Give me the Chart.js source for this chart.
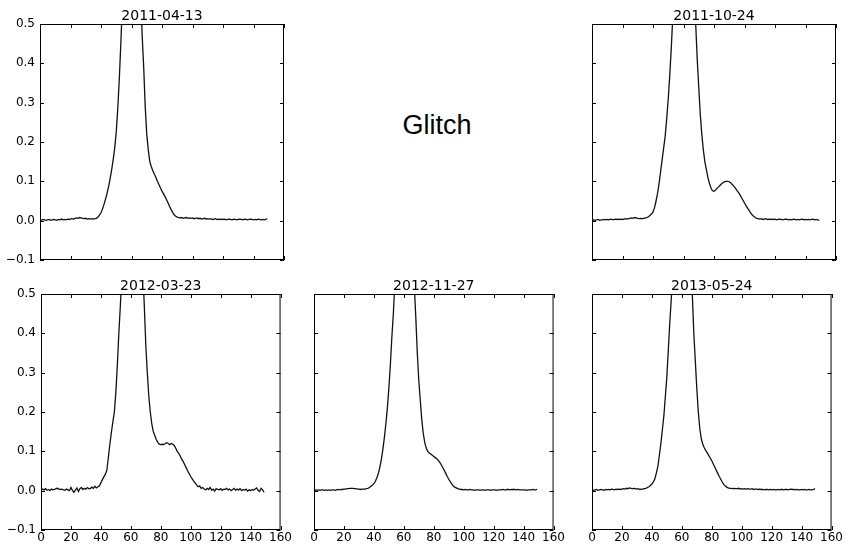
<!DOCTYPE html>
<html>
<head>
<meta charset="utf-8">
<script src="https://cdn.jsdelivr.net/npm/chart.js@4.4.0/dist/chart.umd.min.js"></script>
<style>
  body { margin: 0; background: #fff; }
  #wrap { position: relative; width: 849px; height: 547px; }
  canvas { position: absolute; }
  #glitch {
    position: absolute; left: 337px; top: 110px; width: 200px;
    text-align: center; font: 27px "Liberation Sans", Arial, sans-serif; color: #000;
  }
</style>
</head>
<body>
<div id="wrap">
  <canvas id="c1" width="292" height="278" style="left:0px;top:0px"></canvas>
  <div id="glitch">Glitch</div>
  <canvas id="c2" width="292" height="278" style="left:552px;top:0px"></canvas>
  <canvas id="c3" width="292" height="278" style="left:1px;top:270px"></canvas>
  <canvas id="c4" width="292" height="278" style="left:274px;top:270px"></canvas>
  <canvas id="c5" width="292" height="278" style="left:552px;top:270px"></canvas>
</div>
<script>
// tick values and labels
const X_TICKS = [0, 20, 40, 60, 80, 100, 120, 140, 160];
const Y_TICKS = [-0.1, 0, 0.1, 0.2, 0.3, 0.4, 0.5];
const Y_TICK_LABELS = ['\u22120.1', '0.0', '0.1', '0.2', '0.3', '0.4', '0.5'];

// one value per sample, sample index 0..149 (peaks are clipped)
const S_2011_04_13 = [
  0.002, 0.001, 0.003, 0.002, 0.001, 0.002, 0.003, 0.001, 0.002, 0.003,
  0.002, 0.001, 0.003, 0.002, 0.004, 0.002, 0.003, 0.002, 0.004, 0.003,
  0.004, 0.005, 0.004, 0.006, 0.007, 0.006, 0.008, 0.007, 0.006, 0.005,
  0.006, 0.004, 0.005, 0.004, 0.005, 0.004, 0.005, 0.006,
  0.009, 0.014, 0.02, 0.03, 0.042, 0.055, 0.07, 0.087, 0.107, 0.13,
  0.155, 0.185, 0.225, 0.285, 0.36, 0.45, 0.55, 0.66, 0.77, 0.87,
  0.95, 0.99, 1.0, 0.98, 0.93, 0.86, 0.78, 0.68, 0.58, 0.47,
  0.39, 0.29, 0.22, 0.18, 0.15, 0.137, 0.127, 0.118, 0.11, 0.1,
  0.092, 0.083, 0.075, 0.068, 0.061, 0.053, 0.045, 0.036, 0.028, 0.021,
  0.015, 0.011, 0.009,
  0.008, 0.007, 0.008, 0.006, 0.007, 0.008, 0.006, 0.007, 0.006,
  0.007, 0.005, 0.006, 0.007, 0.005, 0.006, 0.004, 0.005, 0.006, 0.004,
  0.005, 0.004, 0.005, 0.003, 0.004, 0.005, 0.003, 0.004, 0.003, 0.004,
  0.003, 0.004, 0.002, 0.003, 0.004, 0.003, 0.002, 0.004, 0.003, 0.002,
  0.003, 0.004, 0.003, 0.002, 0.004, 0.003, 0.002, 0.003, 0.004, 0.003,
  0.002, 0.003, 0.002, 0.004, 0.003, 0.002, 0.003, 0.002, 0.003, 0.005
];
const S_2011_10_24 = [
  0.001, 0.002, 0.001, 0.002, 0.003, 0.001, 0.002, 0.002, 0.003, 0.002,
  0.003, 0.002, 0.004, 0.003, 0.002, 0.004, 0.003, 0.004, 0.003, 0.004,
  0.003, 0.004, 0.005, 0.004, 0.005, 0.006, 0.007, 0.006, 0.008, 0.007,
  0.006, 0.005, 0.006, 0.005, 0.006, 0.007, 0.008,
  0.01, 0.013, 0.017, 0.022, 0.033, 0.05, 0.07, 0.095, 0.125, 0.155,
  0.185, 0.215, 0.26, 0.31, 0.37, 0.44, 0.52, 0.6, 0.7, 0.8,
  0.88, 0.95, 0.99, 1.0, 0.99, 0.96, 0.9, 0.83, 0.75, 0.66,
  0.57, 0.5, 0.41, 0.34, 0.27, 0.22, 0.18, 0.15, 0.13, 0.11,
  0.095, 0.083, 0.076, 0.075, 0.078, 0.082, 0.086, 0.09, 0.094, 0.097,
  0.099, 0.1, 0.1, 0.099, 0.096, 0.092, 0.088, 0.083, 0.077, 0.072,
  0.066, 0.059, 0.052, 0.045, 0.038, 0.032, 0.026, 0.02, 0.015, 0.011,
  0.008, 0.006, 0.005,
  0.004, 0.005, 0.003, 0.004, 0.005, 0.003, 0.004, 0.003, 0.004, 0.003,
  0.004, 0.002, 0.003, 0.004, 0.003, 0.002, 0.003, 0.004, 0.003, 0.002,
  0.003, 0.002, 0.004, 0.003, 0.002, 0.003, 0.002, 0.003, 0.004, 0.002,
  0.003, 0.002, 0.003, 0.002, 0.003, 0.004, 0.002, 0.003, 0.002, 0.001
];
const S_2012_03_23 = [
  0.001, 0.004, 0.002, 0.005, 0.001, 0.003, 0.0, 0.004, 0.002, 0.003,
  0.005, 0.006, 0.004, 0.003, 0.004, 0.002, 0.001, 0.004, 0.002, 0.0,
  0.008, 0.001, -0.004, 0.002, 0.007, -0.002, 0.005, 0.008, 0.003, 0.006,
  0.004, 0.008, 0.005, 0.006, 0.009, 0.006, 0.011, 0.007, 0.01,
  0.012, 0.02, 0.028, 0.035, 0.042, 0.052, 0.085, 0.118, 0.148, 0.175,
  0.2, 0.25, 0.32, 0.4, 0.47, 0.55, 0.65, 0.75, 0.84, 0.91,
  0.96, 0.99, 1.0, 0.99, 0.96, 0.91, 0.84, 0.75, 0.65, 0.56,
  0.47, 0.37, 0.3, 0.24, 0.2, 0.17, 0.15, 0.14, 0.13, 0.123,
  0.118, 0.117, 0.118, 0.117, 0.12, 0.122, 0.12, 0.117, 0.12, 0.118,
  0.115, 0.108, 0.1, 0.095, 0.088, 0.08, 0.074, 0.066, 0.058, 0.05,
  0.043, 0.036, 0.03, 0.024, 0.019, 0.014, 0.01, 0.012,
  0.006, 0.008, 0.004,
  0.002, 0.006, 0.003, 0.008, 0.001, 0.004, -0.001, 0.005, 0.003, 0.002,
  0.005, 0.001, 0.004, 0.003, 0.006, 0.002, 0.004, 0.0, 0.003, 0.006,
  0.001, 0.004, 0.002, 0.005, 0.0, 0.003, 0.001, 0.004, -0.001, 0.002,
  0.0, 0.003, 0.001, 0.004, 0.007, 0.001, -0.002, 0.006, 0.002, -0.004
];
const S_2012_11_27 = [
  0.001, 0.002, 0.001, 0.002, 0.001, 0.002, 0.002, 0.001, 0.002, 0.001,
  0.002, 0.001, 0.002, 0.002, 0.001, 0.002, 0.003, 0.002, 0.003, 0.003,
  0.004, 0.004, 0.005, 0.005, 0.006, 0.006, 0.006, 0.005, 0.005, 0.004,
  0.004, 0.003, 0.004, 0.004, 0.004, 0.005, 0.006,
  0.008, 0.011, 0.014, 0.018, 0.024, 0.033, 0.044, 0.06, 0.08, 0.105,
  0.135, 0.17, 0.21, 0.26, 0.32, 0.39, 0.45, 0.53, 0.64, 0.75,
  0.85, 0.93, 0.98, 1.0, 0.98, 0.93, 0.85, 0.76, 0.67, 0.59,
  0.52, 0.44, 0.35, 0.28, 0.23, 0.18, 0.145, 0.122, 0.108, 0.1,
  0.096, 0.093, 0.09, 0.087, 0.084, 0.081, 0.077, 0.072, 0.066, 0.059,
  0.052, 0.044, 0.036, 0.029, 0.023, 0.017, 0.012, 0.009, 0.007, 0.005,
  0.004, 0.003, 0.003,
  0.002, 0.003, 0.002, 0.002, 0.003, 0.002, 0.002, 0.001, 0.002, 0.002,
  0.002, 0.001, 0.002, 0.002, 0.001, 0.002, 0.002, 0.002, 0.001, 0.002,
  0.002, 0.002, 0.001, 0.002, 0.002, 0.002, 0.003, 0.002, 0.002, 0.003,
  0.003, 0.002, 0.003, 0.003, 0.003, 0.002, 0.003, 0.002, 0.002, 0.002,
  0.002, 0.002, 0.001, 0.002, 0.002, 0.002, 0.003, 0.002, 0.002, 0.003
];
const S_2013_05_24 = [
  0.002, 0.001, 0.002, 0.003, 0.001, 0.002, 0.003, 0.002, 0.001, 0.003,
  0.002, 0.003, 0.002, 0.004, 0.003, 0.002, 0.004, 0.003, 0.004, 0.003,
  0.004, 0.005, 0.004, 0.006, 0.005, 0.007, 0.006, 0.005, 0.006, 0.005,
  0.004, 0.005, 0.003, 0.004, 0.004, 0.005, 0.006,
  0.008, 0.01, 0.013, 0.017, 0.022, 0.03, 0.045, 0.062, 0.09, 0.12,
  0.155, 0.19, 0.24, 0.29, 0.36, 0.43, 0.49, 0.58, 0.68, 0.78,
  0.87, 0.94, 0.98, 1.0, 0.98, 0.93, 0.85, 0.76, 0.66, 0.58,
  0.5, 0.4, 0.33, 0.26, 0.2, 0.158, 0.132, 0.118, 0.109, 0.102,
  0.096, 0.089, 0.083, 0.076, 0.068, 0.06, 0.052, 0.044, 0.036, 0.029,
  0.022, 0.016, 0.012, 0.009, 0.007, 0.006, 0.006, 0.005, 0.006, 0.005,
  0.005, 0.006, 0.004,
  0.005, 0.004, 0.005, 0.004, 0.005, 0.004, 0.004, 0.005, 0.003, 0.004,
  0.004, 0.003, 0.004, 0.003, 0.003, 0.002, 0.003, 0.003, 0.002, 0.003,
  0.002, 0.003, 0.002, 0.002, 0.003, 0.002, 0.003, 0.003, 0.002, 0.003,
  0.003, 0.002, 0.003, 0.004, 0.003, 0.003, 0.002, 0.003, 0.002, 0.002,
  0.003, 0.002, 0.003, 0.002, 0.002, 0.003, 0.002, 0.002, 0.003, 0.005
];

const FONT = '"DejaVu Sans", sans-serif';

// frame, inward ticks on all four sides and the title, matplotlib style
const framePlugin = {
  id: 'frame',
  afterDatasetsDraw(chart, args, opts) {
    const { ctx, chartArea: a, scales } = chart;
    ctx.save();
    ctx.strokeStyle = '#000';
    ctx.lineWidth = 1;
    ctx.beginPath();
    X_TICKS.forEach(v => {
      const px = Math.round(scales.x.getPixelForValue(v)) + 0.5;
      ctx.moveTo(px, a.bottom); ctx.lineTo(px, a.bottom - 4);
      ctx.moveTo(px, a.top); ctx.lineTo(px, a.top + 4);
    });
    Y_TICKS.forEach(v => {
      const py = Math.round(scales.y.getPixelForValue(v)) + 0.5;
      ctx.moveTo(a.left, py); ctx.lineTo(a.left + 4, py);
      ctx.moveTo(a.right, py); ctx.lineTo(a.right - 4, py);
    });
    ctx.stroke();
    ctx.strokeRect(a.left + 0.5, a.top + 0.5, a.width - 1, a.height - 1);

    ctx.fillStyle = '#000';
    ctx.font = '14px ' + FONT;
    ctx.textAlign = 'center';
    ctx.textBaseline = 'alphabetic';
    ctx.fillText(opts.text, (a.left + a.right) / 2, a.top - 4);
    ctx.restore();
  }
};

function makePanel(id, title, values, showX, showY) {
  const points = values.map((v, i) => ({ x: i, y: v }));
  new Chart(document.getElementById(id), {
    type: 'line',
    data: {
      datasets: [{
        data: points,
        borderColor: '#111',
        borderWidth: 1.3,
        pointRadius: 0,
        tension: 0,
        fill: false
      }]
    },
    options: {
      responsive: false,
      animation: false,
      events: [],
      layout: { padding: { top: 24, right: 8, left: 0, bottom: 0 } },
      plugins: {
        legend: { display: false },
        tooltip: { enabled: false },
        frame: { text: title }
      },
      scales: {
        x: {
          type: 'linear',
          min: 0,
          max: 160,
          grid: { display: false, drawTicks: false },
          border: { display: false },
          afterBuildTicks: s => { s.ticks = X_TICKS.map(v => ({ value: v })); },
          afterFit: s => { s.height = 18; },
          ticks: {
            display: showX,
            autoSkip: false,
            maxRotation: 0,
            padding: 1,
            color: '#000',
            font: { family: FONT, size: 12 },
            callback: v => String(v)
          }
        },
        y: {
          min: -0.1,
          max: 0.5,
          grid: { display: false, drawTicks: false },
          border: { display: false },
          afterBuildTicks: s => { s.ticks = Y_TICKS.map(v => ({ value: v })); },
          afterFit: s => { s.width = 40; },
          ticks: {
            display: showY,
            autoSkip: false,
            padding: 5,
            color: '#000',
            font: { family: FONT, size: 12 },
            callback: (v, i) => Y_TICK_LABELS[i]
          }
        }
      }
    },
    plugins: [framePlugin]
  });
}

makePanel('c1', '2011-04-13', S_2011_04_13, false, true);
makePanel('c2', '2011-10-24', S_2011_10_24, false, false);
makePanel('c3', '2012-03-23', S_2012_03_23, true, true);
makePanel('c4', '2012-11-27', S_2012_11_27, true, false);
makePanel('c5', '2013-05-24', S_2013_05_24, true, false);
</script>
</body>
</html>
